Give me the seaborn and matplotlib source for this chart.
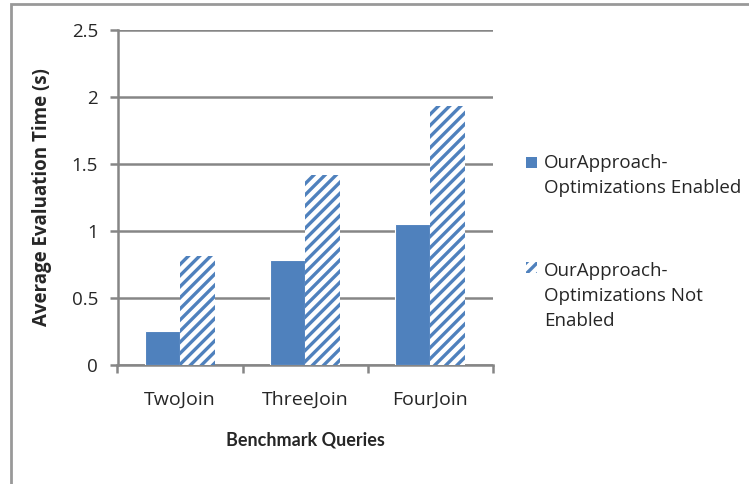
import numpy as np
import pandas as pd
import matplotlib
matplotlib.use("Agg")
import matplotlib.pyplot as plt
from matplotlib.patches import Rectangle
import seaborn as sns

queries = ["TwoJoin", "ThreeJoin", "FourJoin"]
series = ["OurApproach-\nOptimizations Enabled", "OurApproach-\nOptimizations Not\nEnabled"]
enabled = [0.25, 0.78, 1.05]
not_enabled = [0.81, 1.42, 1.93]
y_ticks = [0, 0.5, 1, 1.5, 2, 2.5]
y_labels = ["0", "0.5", "1", "1.5", "2", "2.5"]

df = pd.DataFrame({
    "query": queries * 2,
    "series": [series[0]] * 3 + [series[1]] * 3,
    "time": enabled + not_enabled,
})

sns.set_style("white")
plt.rcParams["font.family"] = ["Open Sans", "DejaVu Sans"]
plt.rcParams["hatch.linewidth"] = 2.4
plt.rcParams["hatch.color"] = "#4F81BD"

blue = "#4F81BD"
grid_col = "#868686"
W, H = 749, 484

fig = plt.figure(figsize=(7.49, 4.84), dpi=100)
ax = fig.add_axes([117.5 / W, 1 - 364.5 / H, (493 - 117.5) / W, (364.5 - 30) / H])

sns.barplot(data=df, x="query", y="time", hue="series", order=queries,
            hue_order=series, palette=[blue, "white"], width=0.56,
            saturation=1, ax=ax, legend=False, zorder=3)

for bar in ax.containers[0]:
    bar.set_edgecolor("white")
    bar.set_linewidth(0.8)
for bar in ax.containers[1]:
    bar.set_facecolor("white")
    bar.set_hatch("///")
    bar.set_edgecolor(blue)
    bar.set_linewidth(0)

ax.set_ylim(0, 2.5)
ax.set_xlim(-0.5, 2.5)
ax.set_yticks(y_ticks)
ax.set_yticklabels(y_labels)
ax.yaxis.grid(True, color=grid_col, linewidth=1.8, zorder=0)
ax.set_axisbelow(True)
for s in ["top", "right"]:
    ax.spines[s].set_visible(False)
for s in ["left", "bottom"]:
    ax.spines[s].set_color(grid_col)
    ax.spines[s].set_linewidth(1.8)

ax.tick_params(axis="y", length=6, width=1.8, color=grid_col, labelsize=13.5, pad=8, left=True)
ax.set_xticks([0, 1, 2])
ax.set_xticklabels(queries)
ax.set_xticks([-0.5, 0.5, 1.5, 2.5], minor=True)
ax.tick_params(axis="x", which="major", length=0, labelsize=14, pad=19)
ax.tick_params(axis="x", which="minor", length=6, width=1.8, color=grid_col, bottom=True)

ax.set_ylabel("Average Evaluation Time (s)", fontsize=13.5, fontweight="bold", labelpad=14)
ax.set_xlabel("Benchmark Queries", fontsize=13, fontweight="bold", labelpad=16,
              family=["Lato", "DejaVu Sans"])

# legend drawn by hand so the key sits on the first text line
legend_rows = [(163, 154, blue, None), (267.5, 262, "white", "///")]
for (yc, yt, fc, hatch), label in zip(legend_rows, series):
    fig.patches.append(Rectangle((526 / W, 1 - (yc + 5.5) / H), 11 / W, 11 / H,
                                 transform=fig.transFigure, facecolor=fc, hatch=hatch,
                                 edgecolor=blue if hatch else fc, linewidth=0))
    fig.text(544 / W, 1 - yt / H, label, fontsize=13.5, va="top", ha="left",
             linespacing=1.5)

fig.patches.append(Rectangle((10.5 / W, -0.05), 1.1, 1 - 4 / H + 0.05, transform=fig.transFigure,
                             fill=False, edgecolor="#999999", linewidth=2, zorder=0))

fig.savefig("out.png", dpi=100)
